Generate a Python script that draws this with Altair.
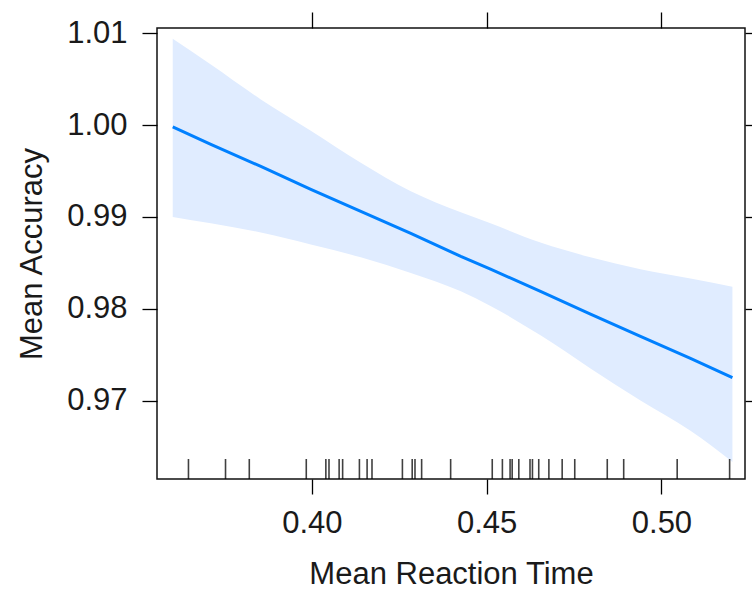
import altair as alt
import pandas as pd

# Effect curve
rt = [0.3602, 0.3711, 0.3854, 0.3997, 0.4140, 0.4283, 0.4426, 0.4511, 0.4654, 0.4797, 0.4940, 0.5083, 0.5203]
fit = [0.9998, 0.9979, 0.9955, 0.9930, 0.9906, 0.9882, 0.9857, 0.9843, 0.9819, 0.9794, 0.9770, 0.9746, 0.9725]
upper = [1.0094, 1.0066, 1.0028, 0.9994, 0.9959, 0.9928, 0.9905, 0.9893, 0.9872, 0.9856, 0.9843, 0.9833, 0.9824]
lower = [0.9900, 0.9893, 0.9883, 0.9870, 0.9856, 0.9839, 0.9819, 0.9803, 0.9771, 0.9735, 0.9700, 0.9667, 0.9633]

# Rug of observed mean reaction times
rug = [0.3647, 0.3753, 0.3821, 0.3984, 0.4040, 0.4049, 0.4078, 0.4088, 0.4136, 0.4158, 0.4172,
       0.4259, 0.4287, 0.4295, 0.4314, 0.4397, 0.4516, 0.4545, 0.4567, 0.4573, 0.4592, 0.4624,
       0.4631, 0.4649, 0.4678, 0.4716, 0.4752, 0.4845, 0.4892, 0.5045, 0.5195]

x_ticks = [0.40, 0.45, 0.50]
y_ticks = [0.97, 0.98, 0.99, 1.00, 1.01]

df = pd.DataFrame({"rt": rt, "fit": fit, "upper": upper, "lower": lower})
df_rug = pd.DataFrame({"rt": rug})

W, H = 588, 451
FONT = "Liberation Sans"

xscale = alt.Scale(domain=[0.3557, 0.5239], nice=False, zero=False)
yscale = alt.Scale(domain=[0.96145, 1.01058], nice=False, zero=False)

common_axis = dict(domain=False, grid=False, tickColor="#000000", tickWidth=1.3,
                   tickSize=15, labelFont=FONT, labelFontSize=31, labelColor="#1a1a1a",
                   titleFont=FONT, titleFontSize=31, titleFontWeight="normal", titleColor="#1a1a1a",
                   format=".2f")

area = alt.Chart(df).mark_area(color="#e0ecff", opacity=1, interpolate="monotone").encode(
    x=alt.X("rt:Q", scale=xscale,
            axis=alt.Axis(orient="bottom", values=x_ticks, title="Mean Reaction Time",
                          labelPadding=14, titleBaseline="alphabetic", titleY=104,
                          **common_axis)),
    y=alt.Y("lower:Q", scale=yscale,
            axis=alt.Axis(orient="left", values=y_ticks, title="Mean Accuracy",
                          labelPadding=15, titleBaseline="alphabetic", titleX=-116,
                          titleY=H / 2, titleAngle=-90, titleAlign="center",
                          **common_axis)),
    y2="upper:Q",
)

line = alt.Chart(df).mark_line(color="#0080ff", strokeWidth=3).encode(
    x=alt.X("rt:Q", scale=xscale,
            axis=alt.Axis(orient="top", values=x_ticks, labels=False, title=None,
                          domain=False, grid=False, tickColor="#000000", tickWidth=1.3, tickSize=16)),
    y=alt.Y("fit:Q", scale=yscale,
            axis=alt.Axis(orient="right", values=y_ticks, labels=False, title=None,
                          domain=False, grid=False, tickColor="#000000", tickWidth=1.3, tickSize=15)),
)

rug_layer = alt.Chart(df_rug).mark_rule(color="#000000", strokeWidth=1.6, opacity=0.75).encode(
    x=alt.X("rt:Q", scale=xscale, axis=None),
    y=alt.value(H - 20),
    y2=alt.value(H),
)

chart = alt.layer(area, line, rug_layer).resolve_axis(
    x="independent", y="independent"
).properties(
    width=W, height=H,
    background="white",
    autosize=alt.AutoSizeParams(type="none"),
    padding={"left": 157, "top": 28, "right": 7, "bottom": 110},
).configure_view(
    stroke="#111111", strokeWidth=1.5
)

chart.save("out.html", embed_options={"renderer": "svg", "actions": False})
